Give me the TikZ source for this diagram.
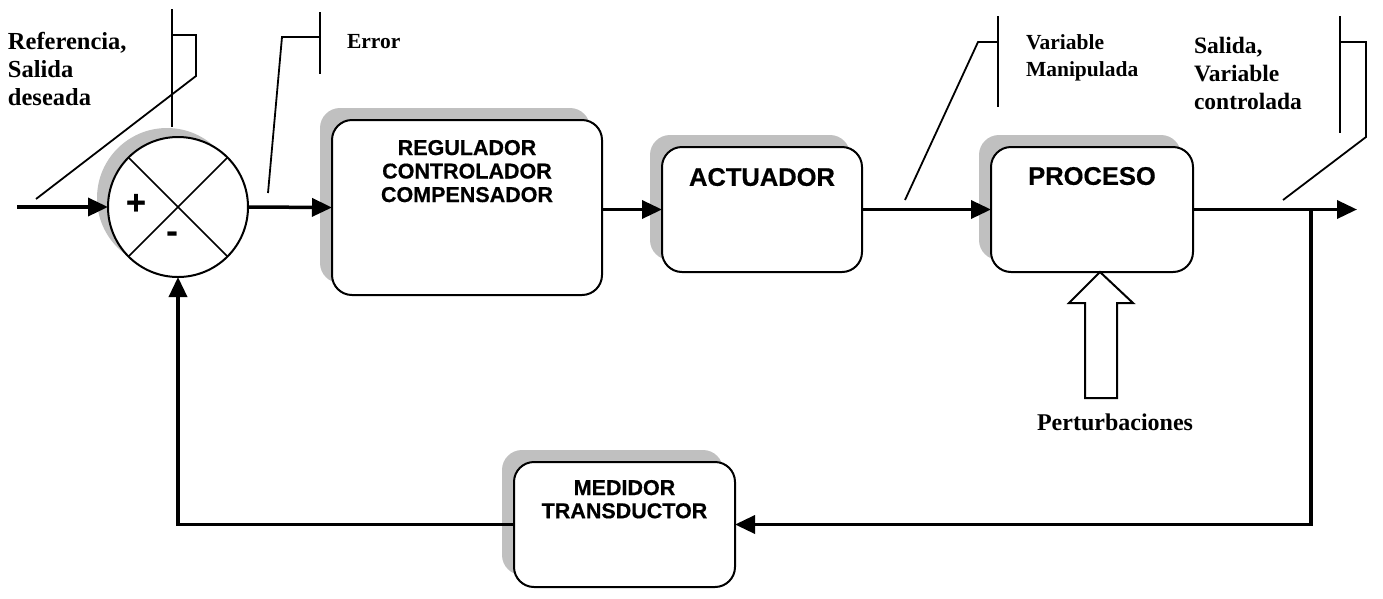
\documentclass[tikz,border=0pt]{standalone}
\usepackage{fontspec}
\setmainfont{Liberation Serif}
\newfontfamily\arialfont[FakeBold=0.5]{Liberation Sans}
\usetikzlibrary{arrows.meta,shadows}
\definecolor{shadowgray}{HTML}{C0C0C0}
\tikzset{
  blockbox/.style={draw=black, line width=2pt, rounded corners=20pt, fill=white, inner sep=0pt, outer sep=0pt,
    general shadow={shadow xshift=-12pt, shadow yshift=12pt, fill=shadowgray}},
  blocklbl/.style={inner sep=0pt, outer sep=0pt, align=center, font=\arialfont\bfseries},
  serifl/.style={inner sep=0pt, outer sep=0pt, align=left, font=\bfseries},
  conn/.style={line width=3.5pt, -{Triangle[length=20pt,width=18pt]}},
  callout/.style={line width=1.8pt},
}
\begin{document}
\begin{tikzpicture}[x=1pt,y=-1pt]
\useasboundingbox (0,0) rectangle (1383,598);

% summing junction
\node[circle, draw, line width=2pt, fill=white, minimum size=140pt, inner sep=0pt, outer sep=0pt,
  general shadow={shadow xshift=-11pt, shadow yshift=9pt, fill=shadowgray}] (sum) at (178,207) {};
\draw[line width=1.6pt] (sum.45) -- (sum.225);
\draw[line width=1.6pt] (sum.135) -- (sum.-45);
\node[inner sep=0pt, font=\arialfont\bfseries\fontsize{34}{34}\selectfont] (plus) at (136,204) {+};
\node[inner sep=0pt, font=\arialfont\bfseries\fontsize{34}{34}\selectfont] (minus) at (172,237) {-};

% blocks
\node[blockbox, minimum width=270pt, minimum height=175pt] (reg) at (467,207.5) {};
\node[blocklbl, anchor=north, font=\arialfont\bfseries\fontsize{21.5}{23.5}\selectfont] (reglbl)
  at ([yshift=-20pt]reg.north) {REGULADOR\\CONTROLADOR\\COMPENSADOR};
\node[blockbox, minimum width=200pt, minimum height=125pt] (act) at (762,209.5) {};
\node[blocklbl, anchor=north, font=\arialfont\bfseries\fontsize{25.5}{27}\selectfont] (actlbl)
  at ([yshift=-21pt]act.north) {ACTUADOR};
\node[blockbox, minimum width=202pt, minimum height=125pt] (proc) at (1092,209.5) {};
\node[blocklbl, anchor=north, font=\arialfont\bfseries\fontsize{25.5}{27}\selectfont] (proclbl)
  at ([yshift=-20pt]proc.north) {PROCESO};
\node[blockbox, minimum width=221pt, minimum height=125pt] (med) at (624.5,524.5) {};
\node[blocklbl, anchor=north, font=\arialfont\bfseries\fontsize{21.5}{23.2}\selectfont] (medlbl)
  at ([yshift=-18pt]med.north) {MEDIDOR\\TRANSDUCTOR};

% connectors
\coordinate (in) at (17,207);
\coordinate (out) at (1357,209.5);
\coordinate (branch) at (1311,0);
\draw[conn] (in) -- (sum.west);
\draw[conn] (sum.east) -- (reg.west);
\draw[conn] (reg.east |- act.west) -- (act.west);
\draw[conn] (act.east) -- (proc.west);
\draw[conn] (proc.east) -- (out);
\draw[conn, line join=miter] (branch |- proc.east) -- (branch |- med.east) -- (med.east);
\draw[conn, line join=miter] (med.west) -| (sum.south);

% disturbance hollow arrow
\draw[line width=2pt, fill=white, line join=miter]
  (1100,272) -- (1133,303) -- (1117,303) -- (1117,398) -- (1085,398) -- (1085,303) -- (1069,303) -- cycle;
\node[serifl, anchor=north, font=\bfseries\fontsize{24}{28}\selectfont] (pert) at (1115,414) {Perturbaciones};

% callouts
\coordinate (r1) at (172,9); \coordinate (r2) at (172,127);
\draw[callout] (r1) -- (r2);
\draw[callout] (172,35) -- (196,35) -- (196,76) -- (36,199);
\node[serifl, anchor=north west, font=\bfseries\fontsize{24.5}{28}\selectfont] (ref) at (8,32) {Referencia,\\Salida\\deseada};

\draw[callout] (320,12) -- (320,74);
\draw[callout] (320,37) -- (282,37) -- (268,193);
\node[serifl, anchor=north west, font=\bfseries\fontsize{21.5}{27}\selectfont] (err) at (347,34) {Error};

\draw[callout] (998,16) -- (998,107);
\draw[callout] (998,42) -- (978,42) -- (905,200);
\node[serifl, anchor=north west, font=\bfseries\fontsize{21.5}{27}\selectfont] (vm) at (1026,35) {Variable\\Manipulada};

\draw[callout] (1340,16) -- (1340,133);
\draw[callout] (1340,42) -- (1366,42) -- (1366,137) -- (1283,200);
\node[serifl, anchor=north west, font=\bfseries\fontsize{23.5}{28}\selectfont] (sal) at (1194,37) {Salida,\\Variable\\controlada};
\end{tikzpicture}
\end{document}
